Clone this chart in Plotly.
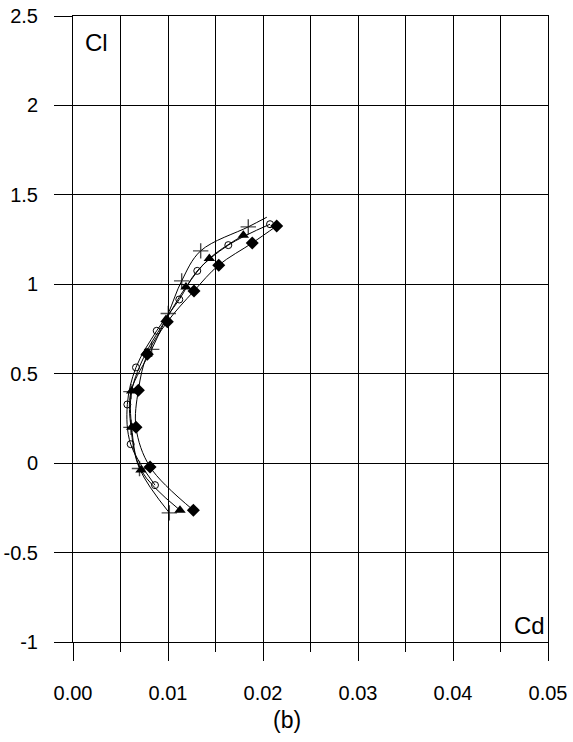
import plotly.graph_objects as go

# Drag polar: lift coefficient Cl against drag coefficient Cd, four configurations
cd_plus = [0.01014, 0.0070, 0.0061, 0.0061, 0.00828, 0.01003, 0.01144, 0.01344, 0.01845, 0.0204]
cl_plus = [-0.278, -0.03, 0.20, 0.40, 0.636, 0.837, 1.019, 1.187, 1.321, 1.375]

cd_circle = [0.00863, 0.00607, 0.00572, 0.00663, 0.00881, 0.01119, 0.01308, 0.01635, 0.02074]
cl_circle = [-0.123, 0.106, 0.328, 0.535, 0.740, 0.915, 1.075, 1.219, 1.336]

cd_tri = [0.01126, 0.00716, 0.00618, 0.00618, 0.00768, 0.00979, 0.01189, 0.01435, 0.01793]
cl_tri = [-0.263, -0.039, 0.200, 0.404, 0.617, 0.803, 0.985, 1.144, 1.274]

cd_dia = [0.01267, 0.00811, 0.00663, 0.00688, 0.00782, 0.00993, 0.01274, 0.01534, 0.01887, 0.02144]
cl_dia = [-0.263, -0.021, 0.200, 0.408, 0.609, 0.790, 0.963, 1.107, 1.231, 1.326]

x_ticks = [0.0, 0.01, 0.02, 0.03, 0.04, 0.05]
x_labels = ["0.00", "0.01", "0.02", "0.03", "0.04", "0.05"]
y_ticks = [-1, -0.5, 0, 0.5, 1, 1.5, 2, 2.5]
y_labels = ["-1", "-0.5", "0", "0.5", "1", "1.5", "2", "2.5"]

FONT = "Liberation Sans, Arial, sans-serif"

fig = go.Figure()

line_style = dict(color="black", width=1, shape="spline", smoothing=1)

# last point of the "+" series carries no marker
plus_sizes = [11] * (len(cd_plus) - 1) + [0]

series = [
    (cd_plus, cl_plus, dict(symbol="cross-thin", size=plus_sizes, color="black",
                            line=dict(color="black", width=1.4))),
    (cd_circle, cl_circle, dict(symbol="circle-open", size=7, color="black",
                                line=dict(color="black", width=1))),
    (cd_tri, cl_tri, dict(symbol="triangle-up", size=10, color="black")),
    (cd_dia, cl_dia, dict(symbol="diamond", size=10, color="black")),
]

for xs, ys, mk in series:
    fig.add_trace(go.Scatter(x=xs, y=ys, mode="lines+markers",
                             line=line_style, marker=mk, showlegend=False))

fig.add_annotation(x=0.0025, y=2.35, xref="x", yref="y", text="Cl", showarrow=False,
                   font=dict(family=FONT, size=24, color="black"))
fig.add_annotation(x=0.0481, y=-0.91, xref="x", yref="y", text="Cd", showarrow=False,
                   font=dict(family=FONT, size=24, color="black"))
fig.add_annotation(x=0.4505, y=-0.1246, xref="paper", yref="paper", text="(b)",
                   xanchor="center", yanchor="middle",
                   showarrow=False, font=dict(family=FONT, size=23, color="black"))

fig.update_layout(
    width=573, height=742,
    margin=dict(l=73, r=25, t=16, b=100, autoexpand=False),
    plot_bgcolor="white", paper_bgcolor="white",
    font=dict(family=FONT, size=20, color="black"),
    xaxis=dict(
        range=[0, 0.05], tickvals=x_ticks, ticktext=x_labels,
        ticks="outside", ticklen=18, tickcolor="black", tickwidth=1,
        showgrid=True, gridcolor="black", gridwidth=1,
        minor=dict(dtick=0.005, tick0=0, ticks="outside", ticklen=9,
                   tickcolor="black", showgrid=True, gridcolor="black", gridwidth=1),
        showline=True, linecolor="black", linewidth=1, mirror=True,
        zeroline=False, ticklabelstandoff=15, automargin=False,
    ),
    yaxis=dict(
        range=[-1, 2.5], tickvals=y_ticks, ticktext=y_labels,
        ticks="outside", ticklen=18, tickcolor="black", tickwidth=1,
        showgrid=True, gridcolor="black", gridwidth=1,
        showline=True, linecolor="black", linewidth=1, mirror=True,
        zeroline=False, ticklabelstandoff=12, automargin=False,
    ),
)

fig.write_html("out.html")
